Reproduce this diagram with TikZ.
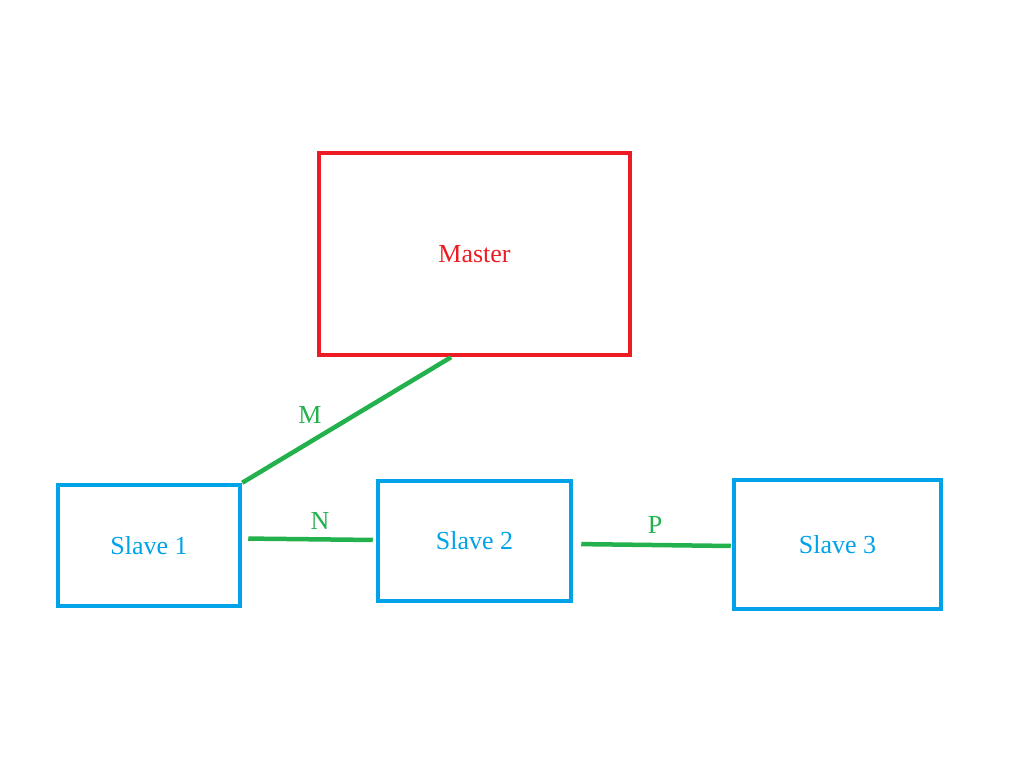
\documentclass[tikz,border=0pt]{standalone}
\usepackage{fontspec}
\setmainfont{Liberation Serif}
\definecolor{paintred}{RGB}{237,28,36}
\definecolor{paintblue}{RGB}{0,162,232}
\definecolor{paintgreen}{RGB}{34,177,76}
\begin{document}
\begin{tikzpicture}[x=1pt,y=-1pt,
    master/.style={draw=paintred, text=paintred, line width=4.5pt},
    slave/.style={draw=paintblue, text=paintblue, line width=4.5pt},
    link/.style={draw=paintgreen, line width=4.5pt},
    lbl/.style={text=paintgreen}]
  \useasboundingbox (0,0) rectangle (1031,757);
  \fontsize{26}{30}\selectfont
  % --- the boxes: master on top, three slaves in a row below it
  \node[master, minimum width=311pt, minimum height=202pt] (m) at (474.5,254) {Master};
  \node[slave, minimum width=182pt, minimum height=121pt] (s1) at (149,545.5) {Slave 1};
  \node[slave, minimum width=193pt, minimum height=120pt] (s2) at (474.5,541) {Slave 2};
  \node[slave, minimum width=207pt, minimum height=129pt] (s3) at (837.5,544.5) {Slave 3};
  % --- the links and their letters
  \draw[link] (s1.north east) -- ([xshift=-23.5pt]m.south);
  \draw[link, shorten <=6pt, shorten >=3pt] ([yshift=7pt]s1.east) -- ([yshift=1pt]s2.west);
  \draw[link, shorten <=8pt, shorten >=1pt] ([yshift=-3pt]s2.east) -- ([yshift=-1.5pt]s3.west);
  \node[lbl] (lm) at (310,415) {M};
  \node[lbl] (ln) at (320,521) {N};
  \node[lbl] (lp) at (655,525) {P};
\end{tikzpicture}
\end{document}
